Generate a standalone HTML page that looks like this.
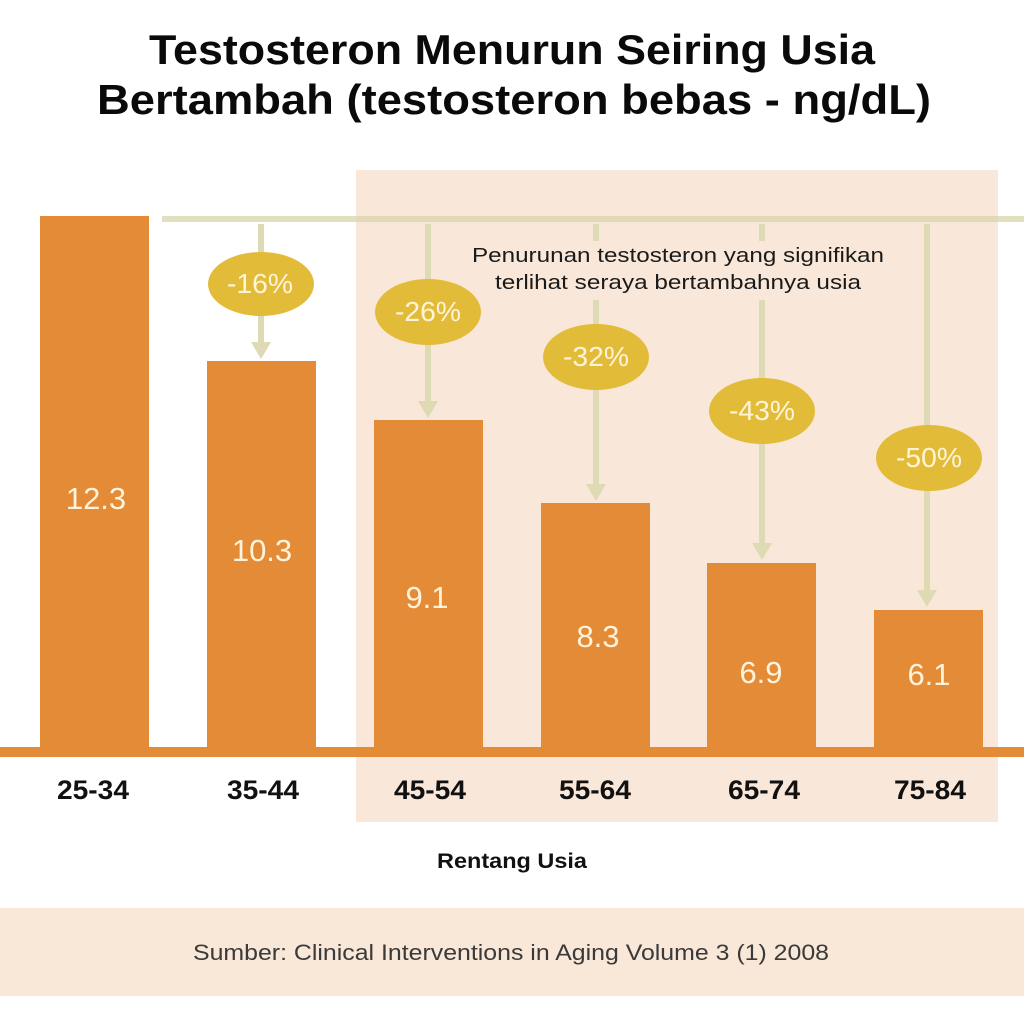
<!DOCTYPE html>
<html>
<head>
<meta charset="utf-8">
<style>
html,body{margin:0;padding:0;background:#fff;}
svg{display:block;}
</style>
</head>
<body>
<svg width="1024" height="1022" viewBox="0 0 1024 1022" xmlns="http://www.w3.org/2000/svg" font-family="'Liberation Sans', sans-serif">
  <rect width="1024" height="1022" fill="#ffffff"/>
  <!-- Title -->
  <text x="512" y="64" text-anchor="middle" font-size="42" font-weight="bold" fill="#0a0a0a" textLength="726" lengthAdjust="spacingAndGlyphs">Testosteron Menurun Seiring Usia</text>
  <text x="514" y="114" text-anchor="middle" font-size="42" font-weight="bold" fill="#0a0a0a" textLength="834" lengthAdjust="spacingAndGlyphs">Bertambah (testosteron bebas - ng/dL)</text>

  <!-- peach highlight box -->
  <rect x="356" y="170" width="642" height="652" fill="#f9e8d9"/>

  <!-- horizontal reference line -->
  <rect x="162" y="216" width="862" height="6" fill="#d9d5a9" opacity="0.75"/>

  <!-- annotation text -->
  <text x="678" y="262" text-anchor="middle" font-size="20" fill="#1a1a1a" textLength="412" lengthAdjust="spacingAndGlyphs">Penurunan testosteron yang signifikan</text>
  <text x="678" y="289" text-anchor="middle" font-size="20" fill="#1a1a1a" textLength="366" lengthAdjust="spacingAndGlyphs">terlihat seraya bertambahnya usia</text>

  <!-- arrows -->
  <g fill="#dedab4">
    <!-- arrow 2 -->
    <rect x="258" y="224" width="6" height="120"/>
    <polygon points="251,342 271,342 261,359"/>
    <!-- arrow 3 -->
    <rect x="425" y="224" width="6" height="180"/>
    <polygon points="418,401 438,401 428,418"/>
    <!-- arrow 4 -->
    <rect x="593" y="224" width="6" height="17"/>
    <rect x="593" y="300" width="6" height="186"/>
    <polygon points="586,484 606,484 596,501"/>
    <!-- arrow 5 -->
    <rect x="759" y="224" width="6" height="17"/>
    <rect x="759" y="300" width="6" height="245"/>
    <polygon points="752,543 772,543 762,560"/>
    <!-- arrow 6 -->
    <rect x="924" y="224" width="6" height="368"/>
    <polygon points="917,590 937,590 927,607"/>
  </g>

  <!-- ellipses -->
  <g fill="#e2bc38">
    <ellipse cx="261" cy="284" rx="53" ry="32"/>
    <ellipse cx="428" cy="312" rx="53" ry="33"/>
    <ellipse cx="596" cy="357" rx="53" ry="33"/>
    <ellipse cx="762" cy="411" rx="53" ry="33"/>
    <ellipse cx="929" cy="458" rx="53" ry="33"/>
  </g>
  <g fill="#fff4d8" font-size="28" text-anchor="middle">
    <text x="260" y="293" textLength="66" lengthAdjust="spacingAndGlyphs">-16%</text>
    <text x="428" y="321" textLength="66" lengthAdjust="spacingAndGlyphs">-26%</text>
    <text x="596" y="366" textLength="66" lengthAdjust="spacingAndGlyphs">-32%</text>
    <text x="762" y="420" textLength="66" lengthAdjust="spacingAndGlyphs">-43%</text>
    <text x="929" y="467" textLength="66" lengthAdjust="spacingAndGlyphs">-50%</text>
  </g>

  <!-- bars -->
  <g fill="#e38b36">
    <rect x="40" y="216" width="109" height="536"/>
    <rect x="207" y="361" width="109" height="391"/>
    <rect x="374" y="420" width="109" height="332"/>
    <rect x="541" y="503" width="109" height="249"/>
    <rect x="707" y="563" width="109" height="189"/>
    <rect x="874" y="610" width="109" height="142"/>
    <rect x="0" y="747" width="1024" height="10"/>
  </g>

  <!-- values -->
  <g fill="#fff3dc" font-size="31" text-anchor="middle">
    <text x="96" y="509">12.3</text>
    <text x="262" y="561">10.3</text>
    <text x="427" y="608">9.1</text>
    <text x="598" y="647">8.3</text>
    <text x="761" y="683">6.9</text>
    <text x="929" y="685">6.1</text>
  </g>

  <!-- x labels -->
  <g fill="#111" font-size="27" font-weight="bold" text-anchor="middle">
    <text x="93" y="799" textLength="72" lengthAdjust="spacingAndGlyphs">25-34</text>
    <text x="263" y="799" textLength="72" lengthAdjust="spacingAndGlyphs">35-44</text>
    <text x="430" y="799" textLength="72" lengthAdjust="spacingAndGlyphs">45-54</text>
    <text x="595" y="799" textLength="72" lengthAdjust="spacingAndGlyphs">55-64</text>
    <text x="764" y="799" textLength="72" lengthAdjust="spacingAndGlyphs">65-74</text>
    <text x="930" y="799" textLength="72" lengthAdjust="spacingAndGlyphs">75-84</text>
  </g>

  <text x="512" y="868" text-anchor="middle" font-size="21" font-weight="bold" fill="#111" textLength="150" lengthAdjust="spacingAndGlyphs">Rentang Usia</text>

  <!-- footer -->
  <rect x="0" y="908" width="1024" height="88" fill="#f9e7d8"/>
  <text x="511" y="960" text-anchor="middle" font-size="22" fill="#3a3a3a" textLength="636" lengthAdjust="spacingAndGlyphs">Sumber: Clinical Interventions in Aging Volume 3 (1) 2008</text>
</svg>
</body>
</html>
